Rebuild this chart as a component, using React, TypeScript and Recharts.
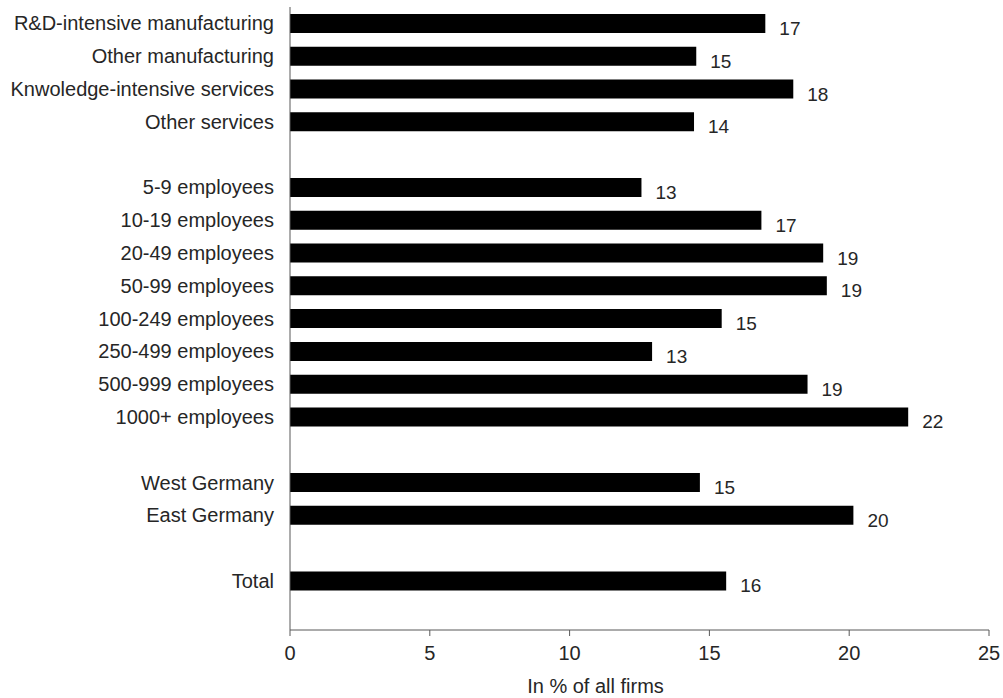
import React from "react";
import { BarChart, Bar, XAxis, YAxis, LabelList } from "recharts";

const categories: string[] = [
  "R&D-intensive manufacturing",
  "Other manufacturing",
  "Knwoledge-intensive services",
  "Other services",
  "",
  "5-9 employees",
  "10-19 employees",
  "20-49 employees",
  "50-99 employees",
  "100-249 employees",
  "250-499 employees",
  "500-999 employees",
  "1000+ employees",
  "",
  "West Germany",
  "East Germany",
  "",
  "Total",
  "",
];

const values: (number | null)[] = [
  17.0, 14.53, 18.0, 14.45, null,
  12.57, 16.86, 19.07, 19.2, 15.44, 12.95, 18.51, 22.11, null,
  14.66, 20.15, null,
  15.6, null,
];

const xTicks: number[] = [0, 5, 10, 15, 20, 25];
const xTitle = "In % of all firms";

const data = categories.map((c, i) => ({ id: i, name: c, value: values[i] }));

const FONT = "'Liberation Sans', Arial, sans-serif";
const TEXT = "#262626";

const ValueLabel = (props: any) => {
  const { x, y, width, height, value } = props;
  if (value === null || value === undefined) return null;
  return (
    <text
      x={x + width + 14}
      y={y + height / 2 + 5}
      fill={TEXT}
      fontSize={19}
      fontFamily={FONT}
      dominantBaseline="central"
      textAnchor="start"
    >
      {Math.round(value)}
    </text>
  );
};

export default function App() {
  return (
    <div style={{ position: "absolute", left: 0, top: 0, background: "#fff" }}>
      <BarChart
        width={1003}
        height={698}
        data={data}
        layout="vertical"
        margin={{ top: 7, right: 14, bottom: 0, left: 0 }}
        barSize={19}
      >
        <XAxis
          type="number"
          domain={[0, 25]}
          ticks={xTicks}
          height={68}
          stroke="#595959"
          tickSize={6}
          tickMargin={10}
          tick={{ fill: TEXT, fontSize: 20, fontFamily: FONT }}
          label={{
            value: xTitle,
            position: "insideBottom",
            offset: 5,
            dx: -44,
            fill: TEXT,
            fontSize: 20,
            fontFamily: FONT,
          }}
        />
        <YAxis
          type="category"
          dataKey="id"
          width={290}
          stroke="#595959"
          tickLine={false}
          tickSize={0}
          tickMargin={16}
          interval={0}
          tickFormatter={(v: number) => categories[v]}
          tick={{ fill: TEXT, fontSize: 20, fontFamily: FONT }}
        />
        <Bar dataKey="value" fill="#000" isAnimationActive={false}>
          <LabelList dataKey="value" content={ValueLabel} />
        </Bar>
      </BarChart>
    </div>
  );
}
